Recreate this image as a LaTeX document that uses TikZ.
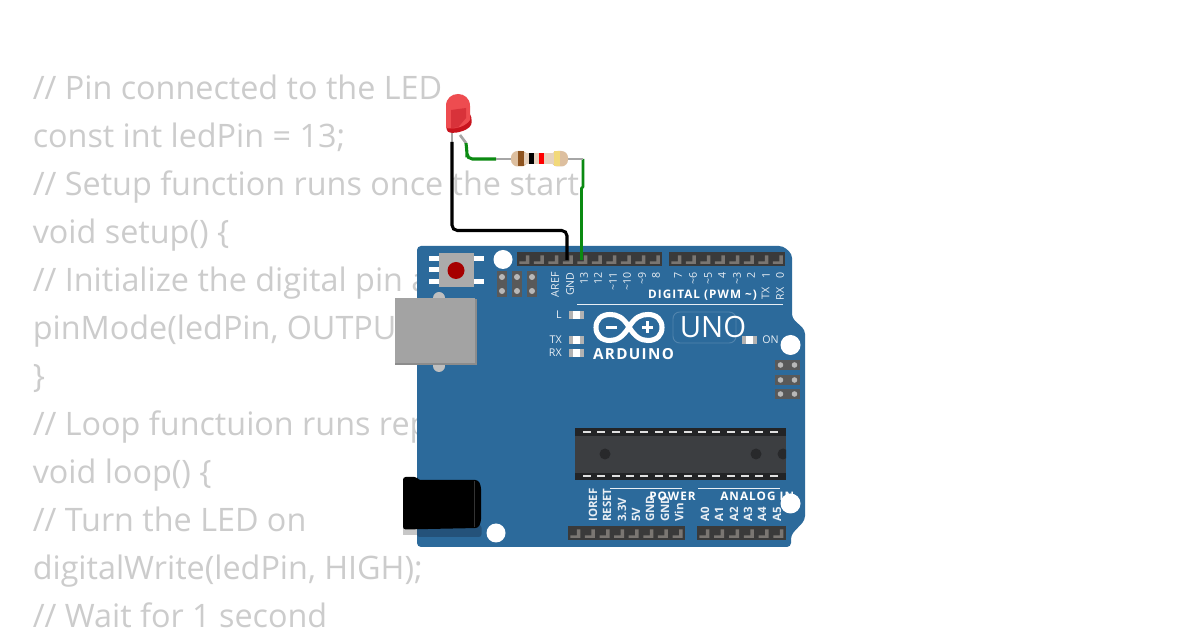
\documentclass[tikz,border=0pt]{standalone}
\usepackage{fontspec}
\setmainfont{Open Sans}
\newfontfamily\trk[LetterSpace=9]{Open Sans}
\definecolor{boardblue}{HTML}{2C6A9B}
\definecolor{codegray}{HTML}{CCCCCC}
\definecolor{hdr}{HTML}{3A3A3A}
\definecolor{hdrpin}{HTML}{7A7672}
\definecolor{usbg}{HTML}{A3A3A3}
\definecolor{wiregreen}{HTML}{0B8A12}
\definecolor{silk}{HTML}{E8EEF4}
\definecolor{chipdark}{HTML}{232426}
\definecolor{chipbody}{HTML}{3C3E41}
\definecolor{chipdot}{HTML}{28292B}
\definecolor{resbody}{HTML}{DDBF9F}
\definecolor{resmid}{HTML}{E6D2BE}
\definecolor{resbrown}{HTML}{8E5420}
\definecolor{resgold}{HTML}{F2D97A}
\definecolor{ledlight}{HTML}{EE4C50}
\definecolor{ledhi}{HTML}{F77A78}
\definecolor{leddark}{HTML}{C8141E}
\definecolor{ledface}{HTML}{D8323A}
\definecolor{jackshadow}{HTML}{24527A}
\tikzset{
  code/.style={anchor=base west,inner sep=0,text=codegray,font=\fontsize{24.25}{24}\selectfont},
  num/.style={rotate=90,anchor=east,inner sep=0,text=silk,font=\fontsize{8}{8}\selectfont},
  lab/.style={rotate=90,anchor=west,inner sep=0,text=silk,font=\fontsize{8.6}{9}\selectfont\bfseries},
  side/.style={anchor=east,inner sep=0,text=silk,font=\fontsize{8}{8}\selectfont},
  head/.style={anchor=center,inner sep=0,text=white,font=\trk\fontsize{8.8}{9}\selectfont\bfseries},
  hole/.style={fill=white,draw=none},
  wire/.style={line width=2.3pt,rounded corners=4pt},
  lead/.style={line width=2pt,color=black!35},
  smd/.style={fill=white,draw=none},
}
\newcommand{\hdrstrip}[4]{% x0 y0 n pitch
  \foreach \i in {1,...,#3}{
    \pgfmathsetmacro{\xx}{#1+(\i-0.5)*#4}
    \fill[hdrpin] (\xx-5,#2+9.5) -- (\xx+1.5,#2+9.5) -- (\xx+1.5,#2+3.5) -- (\xx+5,#2+3.5) -- (\xx+5,#2+12) -- (\xx-5,#2+12) -- cycle;
  }}
\newcommand{\smdled}[2]{% x y
  \fill[smd] (#1,#2-4) rectangle (#1+15,#2+4);
  \fill[black!30] (#1,#2-4) rectangle (#1+4,#2+4);
  \fill[black!30] (#1+11,#2-4) rectangle (#1+15,#2+4);
}
\begin{document}
\begin{tikzpicture}[x=0.75pt,y=-0.75pt]
\useasboundingbox (0,0) rectangle (1200,630);
\fill[white] (0,0) rectangle (1200,630);
% code text
\node[code] (c1) at (32.5,99.5) {// Pin connected to the LED};
\node[code] (c2) at (32.5,147.5) {const int ledPin = 13;};
\node[code] (c3) at (32.5,195.5) {// Setup function runs once the start};
\node[code] (c4) at (32.5,243.5) {void setup() \{};
\node[code] (c5) at (32.5,291.5) {// Initialize the digital pin a};
\node[code] (c6) at (32.5,339.5) {pinMode(ledPin, OUTPU};
\node[code] (c7) at (32.5,387.5) {\}};
\node[code] (c8) at (32.5,435.5) {// Loop functuion runs rep};
\node[code] (c9) at (32.5,483.5) {void loop() \{};
\node[code] (c10) at (32.5,531.5) {// Turn the LED on};
\node[code] (c11) at (32.5,579.5) {digitalWrite(ledPin, HIGH);};
\node[code] (c12) at (32.5,627.5) {// Wait for 1 second};
% board
\fill[boardblue,rounded corners=3pt] (417,246) -- (783,246) -- (792,254) -- (792,318) -- (805,330) -- (805,520) -- (791,535) -- (791,547) -- (417,547) -- cycle;
% top headers
\fill[hdr] (517,252) rectangle (662,266);
\fill[hdr] (669,252) rectangle (785,266);
\hdrstrip{517}{252}{10}{14.5}
\hdrstrip{669}{252}{8}{14.5}
% bottom headers
\fill[hdr] (568,526) rectangle (685,540);
\fill[hdr] (697,526) rectangle (786,540);
\hdrstrip{568}{526}{8}{14.6}
\hdrstrip{697}{526}{6}{14.8}
% reset button
\foreach \yy in {256,267,279}{\fill[white] (429,\yy) rectangle (440,\yy+5);}
\foreach \yy in {256,279}{\fill[white] (473,\yy) rectangle (484,\yy+5);}
\fill[black!33] (439,253) rectangle (474,287);
\fill[red!65!black] (456,270.5) circle[radius=8.5];
% icsp left
\foreach \xx in {497,512,527}{
  \fill[black!65] (\xx,271) rectangle (\xx+10,297);
  \fill[black!28] (\xx+5,277) circle[radius=3];
  \fill[black!28] (\xx+5,291) circle[radius=3];
}
% icsp right
\foreach \yy in {360,375,389}{
  \fill[black!65] (775,\yy) rectangle (800,\yy+10);
  \fill[black!28] (780.5,\yy+5) circle[radius=2.8];
  \fill[black!28] (794.5,\yy+5) circle[radius=2.8];
}
% usb
\fill[black!25] (439,298) circle[radius=6];
\fill[black!25] (439,366) circle[radius=6];
\fill[black!45] (395,299) rectangle (477,365);
\fill[usbg] (394.5,298) rectangle (475,363);
% power jack
\fill[black!22] (403,525) rectangle (418,535.5);
\fill[jackshadow,rounded corners=2pt] (417,525) rectangle (481.5,537);
\fill[black,rounded corners=2pt] (403,477) -- (417,477) -- (418,480) -- (478,480) -- (481,486) -- (481,522) -- (478,528) -- (403,529.5) -- cycle;
\draw[black!80,line width=0.6pt] (474,481) -- (474,527);
% chip
\fill[chipdark] (575,428) rectangle (786,480);
\fill[chipbody] (575,436) rectangle (786,473);
\foreach \i in {0,...,13}{
  \pgfmathsetmacro{\xx}{587+\i*14.36}
  \fill[black!12] (\xx-4,431) rectangle (\xx+4,433.5);
  \fill[black!12] (\xx-4,475) rectangle (\xx+4,477.5);
}
\fill[chipdot] (605,454) circle[radius=5.5];
\fill[chipdot] (756,454) circle[radius=5.5];
\begin{scope}
\clip (775,436) rectangle (786,473);
\fill[chipdot] (783,454) circle[radius=5.5];
\end{scope}
% silk lines
\draw[silk,line width=0.7pt] (577,304.5) -- (783,304.5);
\draw[silk,line width=0.7pt] (610,488) -- (682,488);
\draw[silk,line width=0.7pt] (698,488) -- (780,488);
% digital labels
\node[num] (d1) at (555,272) {AREF};
\node[num] (d2) at (570,272) {GND};
\node[num] (d3) at (584,272) {13};
\node[num] (d4) at (598,272) {12};
\node[num] (d5) at (613,272) {\textasciitilde 11};
\node[num] (d6) at (627,272) {\textasciitilde 10};
\node[num] (d7) at (642,272) {\textasciitilde 9};
\node[num] (d8) at (656,272) {8};
\node[num] (d9) at (678,272) {7};
\node[num] (d10) at (693,272) {\textasciitilde 6};
\node[num] (d11) at (708,272) {\textasciitilde 5};
\node[num] (d12) at (722,272) {4};
\node[num] (d13) at (737,272) {\textasciitilde 3};
\node[num] (d14) at (751,272) {2};
\node[num] (d15) at (766,272) {1};
\node[num] (d16) at (780,272) {0};
\node[num] (d17) at (765.5,287) {TX};
\node[num] (d18) at (780,287) {RX};
\node[head] (dig) at (702.5,295) {DIGITAL (PWM \textasciitilde)};
% LEDs
\node[side] (lL) at (562,315) {L};
\node[side] (lTX) at (562,340) {TX};
\node[side] (lRX) at (562,353) {RX};
\smdled{569}{315}
\smdled{569}{340}
\smdled{569}{353}
\smdled{742}{340}
\node[side,anchor=west] (lON) at (762,340) {ON};
% logo
\draw[white,line width=3.8pt] (629,327) .. controls (623,317) and (617,314.5) .. (610,314.5) .. controls (601,314.5) and (596,320) .. (596,327.5) .. controls (596,335) and (601,340.5) .. (610,340.5) .. controls (617,340.5) and (623,337) .. (629,327) .. controls (635,317) and (641,314.5) .. (648,314.5) .. controls (657,314.5) and (662,320) .. (662,327.5) .. controls (662,335) and (657,340.5) .. (648,340.5) .. controls (641,340.5) and (635,337) .. (629,327) -- cycle;
\fill[white] (606,326) rectangle (617,329);
\fill[white] (642,326) rectangle (653,329);
\fill[white] (646,321.5) rectangle (649,333.5);
\node[head,font=\trk\fontsize{11.4}{12}\selectfont\bfseries] (ard) at (633.5,354) {ARDUINO};
\draw[white,opacity=.18,line width=0.7pt,rounded corners=5pt] (673,312) rectangle (736,343);
\node[anchor=center,inner sep=0,text=white,font=\fontsize{22}{22}\selectfont] (uno) at (713,327) {UNO};
% power labels
\node[lab] (p1) at (593,522) {IOREF};
\node[lab] (p2) at (607,522) {RESET};
\node[lab] (p3) at (622,522) {3.3V};
\node[lab] (p4) at (636,522) {5V};
\node[lab] (p5) at (650,522) {GND};
\node[lab] (p6) at (665,522) {GND};
\node[lab] (p7) at (679,522) {Vin};
\node[lab] (a0) at (705,522) {A0};
\node[lab] (a1) at (719,522) {A1};
\node[lab] (a2) at (734,522) {A2};
\node[lab] (a3) at (748,522) {A3};
\node[lab] (a4) at (762,522) {A4};
\node[lab] (a5) at (777,522) {A5};
\node[head] (pow) at (672.5,496) {POWER};
\node[head,anchor=west] (ana) at (720,496) {ANALOG IN};
% holes
\fill[hole] (503,259.5) circle[radius=9.5];
\fill[hole] (790.5,345) circle[radius=10];
\fill[hole] (790.5,503.5) circle[radius=10];
\fill[hole] (496,533) circle[radius=9.5];
% connection points
\coordinate (ledK) at (452,142);
\coordinate (ledA) at (466,143);
\coordinate (gndPin) at (567,260);
\coordinate (pin13) at (581.5,260);
\coordinate (resL) at (496,159);
\coordinate (resR) at (583,159);
% LED leads
\draw[lead] (452,130) -- (ledK);
\draw[lead] (460,135) -- (ledA);
% wires
\draw[wire,black] (ledK) |- (500,230.5) -| (gndPin);
\draw[wire,wiregreen] (ledA) -- (467,152) -- (467,159) -- (resL);
\draw[wiregreen,line width=2pt,line join=round] (resR) -- (583,187) -- (581.5,188) -- (pin13);
% resistor
\draw[lead] (resL) -- (resR);
\fill[resbody,rounded corners=5pt] (511,151) rectangle (528,166.5);
\fill[resbody,rounded corners=5pt] (551,151) rectangle (568,166.5);
\fill[resmid] (524,153) rectangle (555,164.5);
\fill[resbrown] (518,151) rectangle (523.5,166.5);
\fill[black] (529,153) rectangle (534,164.5);
\fill[red] (539,153) rectangle (544,164.5);
\fill[resgold] (554,151) rectangle (560,166.5);
% LED
\fill[leddark,rounded corners=2.5pt] (446,124) -- (466,112) -- (471,114) -- (472,125) -- (466,130) -- (456,133) -- (447,132.5) -- cycle;
\fill[ledlight] (446,128) -- (446,106) .. controls (446,98) and (452,94) .. (458,94) .. controls (464,94) and (470,98) .. (470,106) -- (470,120) .. controls (466,126) and (456,130) .. (446,128) -- cycle;
\fill[ledface] (451,110) -- (466,108) -- (466,118) -- (458,127.5) -- (451,128) -- cycle;
\end{tikzpicture}
\end{document}
